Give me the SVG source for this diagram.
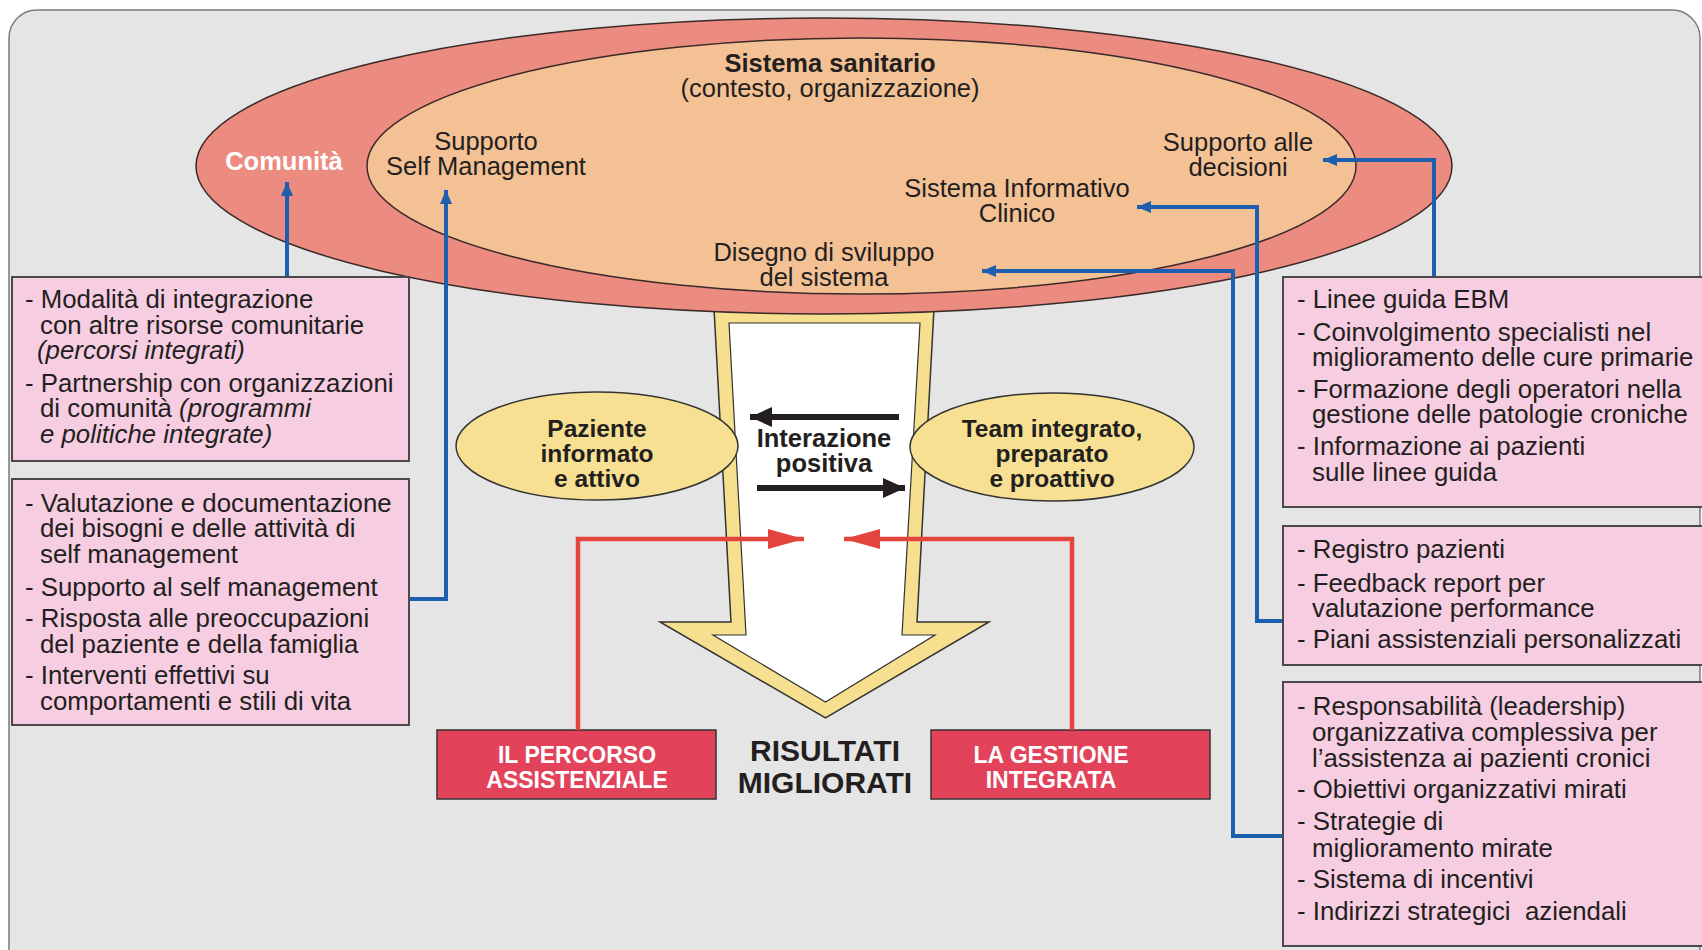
<svg xmlns="http://www.w3.org/2000/svg" width="1702" height="950" viewBox="0 0 1702 950">
<defs>
<style>
text{font-family:"Liberation Sans",Arial,sans-serif;fill:#231f20}
.lbl{font-size:25.5px}
.box{font-size:25.8px}
.b{font-weight:bold}
.it{font-style:italic}
.pink{fill:#f7cde1;stroke:#4a4a4a;stroke-width:2}
.blue{fill:none;stroke:#1e5eaf;stroke-width:4}
.red{fill:none;stroke:#e3453d;stroke-width:4.5}
.rbox{fill:#e2435a;stroke:#333;stroke-width:1.5}
.rtxt{font-size:23px;font-weight:bold;fill:#fff}
.yel{fill:#f8e092;stroke:#333;stroke-width:1.5}
</style>
<marker id="ab" markerUnits="userSpaceOnUse" markerWidth="16" markerHeight="12" refX="14" refY="6" orient="auto"><path d="M0,0 L14,6 L0,12 Z" fill="#1e5eaf"/></marker>
<marker id="ar" markerUnits="userSpaceOnUse" markerWidth="38" markerHeight="20" refX="36" refY="10" orient="auto"><path d="M0,0 L36,10 L0,20 Z" fill="#e3453d"/></marker>
<marker id="ak" markerUnits="userSpaceOnUse" markerWidth="24" markerHeight="20" refX="22" refY="10" orient="auto"><path d="M0,0 L22,10 L0,20 Z" fill="#231f20"/></marker>
</defs>
<rect x="9" y="10" width="1691" height="1000" rx="28" fill="#e5e5e5" stroke="#7a7a7a" stroke-width="1.5"/>

<g id="arrow-big">
<polygon points="713,290 935,290 917,622 989,622 825.5,718 660,622 731,622" fill="#f6df8e" stroke="#333" stroke-width="1.5"/>
<polygon points="729,323 920,323 902,635 935,635 825.5,702 713,635 746,635" fill="#fff" stroke="#333" stroke-width="1.2"/>
</g>

<g id="comunita">
<ellipse cx="824" cy="166" rx="628" ry="148" fill="#ec8b7f" stroke="#3a2a2a" stroke-width="1.5"/>
<text x="284" y="170" text-anchor="middle" class="lbl b" style="fill:#fff">Comunità</text>
</g>
<g id="sistema-sanitario">
<ellipse cx="861.5" cy="166" rx="494.5" ry="128" fill="#f4c195" stroke="#3a2a2a" stroke-width="1.5"/>
<text x="830" y="72" text-anchor="middle" class="lbl b">Sistema sanitario</text>
<text x="830" y="97" text-anchor="middle" class="lbl">(contesto, organizzazione)</text>
</g>
<g id="supporto-self">
<text x="486" y="150" text-anchor="middle" class="lbl">Supporto</text>
<text x="486" y="175" text-anchor="middle" class="lbl">Self Management</text>
</g>
<g id="supporto-decisioni">
<text x="1238" y="151" text-anchor="middle" class="lbl">Supporto alle</text>
<text x="1238" y="176" text-anchor="middle" class="lbl">decisioni</text>
</g>
<g id="sistema-informativo">
<text x="1017" y="197" text-anchor="middle" class="lbl">Sistema Informativo</text>
<text x="1017" y="222" text-anchor="middle" class="lbl">Clinico</text>
</g>
<g id="disegno">
<text x="824" y="261" text-anchor="middle" class="lbl">Disegno di sviluppo</text>
<text x="824" y="286" text-anchor="middle" class="lbl">del sistema</text>
</g>

<g id="paziente">
<ellipse class="yel" cx="597" cy="446" rx="141" ry="54"/>
<text x="597" y="437" text-anchor="middle" class="lbl b" style="font-size:24.5px">Paziente</text>
<text x="597" y="462" text-anchor="middle" class="lbl b" style="font-size:24.5px">informato</text>
<text x="597" y="487" text-anchor="middle" class="lbl b" style="font-size:24.5px">e attivo</text>
</g>
<g id="team">
<ellipse class="yel" cx="1052" cy="447" rx="142" ry="54"/>
<text x="1052" y="437" text-anchor="middle" class="lbl b" style="font-size:24.5px">Team integrato,</text>
<text x="1052" y="462" text-anchor="middle" class="lbl b" style="font-size:24.5px">preparato</text>
<text x="1052" y="487" text-anchor="middle" class="lbl b" style="font-size:24.5px">e proattivo</text>
</g>
<g id="interazione">
<text x="824" y="447" text-anchor="middle" class="lbl b">Interazione</text>
<text x="824" y="472" text-anchor="middle" class="lbl b">positiva</text>
</g>
<g id="risultati">
<text x="825" y="761" text-anchor="middle" class="b" style="font-size:30px">RISULTATI</text>
<text x="825" y="793" text-anchor="middle" class="b" style="font-size:30px">MIGLIORATI</text>
</g>

<g id="percorso">
<rect class="rbox" x="437" y="730" width="279" height="69"/>
<text x="577" y="763" text-anchor="middle" class="rtxt">IL PERCORSO</text>
<text x="577" y="788" text-anchor="middle" class="rtxt">ASSISTENZIALE</text>
</g>
<g id="gestione">
<rect class="rbox" x="931" y="730" width="279" height="69"/>
<text x="1051" y="763" text-anchor="middle" class="rtxt">LA GESTIONE</text>
<text x="1051" y="788" text-anchor="middle" class="rtxt">INTEGRATA</text>
</g>

<g id="connectors">
<line x1="899" y1="417" x2="750" y2="417" stroke="#231f20" stroke-width="6" marker-end="url(#ak)"/>
<line x1="757" y1="488" x2="905" y2="488" stroke="#231f20" stroke-width="6" marker-end="url(#ak)"/>
<polyline class="red" points="578,730 578,539 804,539" marker-end="url(#ar)"/>
<polyline class="red" points="1072,730 1072,539 844,539" marker-end="url(#ar)"/>
<polyline class="blue" points="287,277 287,182" marker-end="url(#ab)"/>
<polyline class="blue" points="409,599 446,599 446,190" marker-end="url(#ab)"/>
<polyline class="blue" points="1434,277 1434,160 1323,160" marker-end="url(#ab)"/>
<polyline class="blue" points="1285,621 1257,621 1257,207 1137,207" marker-end="url(#ab)"/>
<polyline class="blue" points="1285,836 1233,836 1233,271 982,271" marker-end="url(#ab)"/>
</g>

<g id="box-comunita">
<rect class="pink" x="12" y="277" width="397" height="184"/>
<text class="box" x="25" y="308">- Modalità di integrazione</text>
<text class="box" x="40" y="334">con altre risorse comunitarie</text>
<text class="box it" x="37" y="359">(percorsi integrati)</text>
<text class="box" x="25" y="392">- Partnership con organizzazioni</text>
<text class="box" x="40" y="417">di comunità <tspan class="it">(programmi</tspan></text>
<text class="box it" x="40" y="443">e politiche integrate)</text>
</g>
<g id="box-self">
<rect class="pink" x="12" y="479" width="397" height="246"/>
<text class="box" x="25" y="512">- Valutazione e documentazione</text>
<text class="box" x="40" y="537">dei bisogni e delle attività di</text>
<text class="box" x="40" y="563">self management</text>
<text class="box" x="25" y="596">- Supporto al self management</text>
<text class="box" x="25" y="627">- Risposta alle preoccupazioni</text>
<text class="box" x="40" y="653">del paziente e della famiglia</text>
<text class="box" x="25" y="684">- Interventi effettivi su</text>
<text class="box" x="40" y="710">comportamenti e stili di vita</text>
</g>
<g id="box-decisioni">
<rect class="pink" x="1283" y="277" width="430" height="230"/>
<text class="box" x="1297" y="308">- Linee guida EBM</text>
<text class="box" x="1297" y="341">- Coinvolgimento specialisti nel</text>
<text class="box" x="1312" y="366">miglioramento delle cure primarie</text>
<text class="box" x="1297" y="398">- Formazione degli operatori nella</text>
<text class="box" x="1312" y="423">gestione delle patologie croniche</text>
<text class="box" x="1297" y="455">- Informazione ai pazienti</text>
<text class="box" x="1312" y="481">sulle linee guida</text>
</g>
<g id="box-informativo">
<rect class="pink" x="1283" y="526" width="430" height="139"/>
<text class="box" x="1297" y="558">- Registro pazienti</text>
<text class="box" x="1297" y="592">- Feedback report per</text>
<text class="box" x="1312" y="617">valutazione performance</text>
<text class="box" x="1297" y="648">- Piani assistenziali personalizzati</text>
</g>
<g id="box-disegno">
<rect class="pink" x="1283" y="682" width="430" height="264"/>
<text class="box" x="1297" y="715">- Responsabilità (leadership)</text>
<text class="box" x="1312" y="741">organizzativa complessiva per</text>
<text class="box" x="1312" y="767">l’assistenza ai pazienti cronici</text>
<text class="box" x="1297" y="798">- Obiettivi organizzativi mirati</text>
<text class="box" x="1297" y="830">- Strategie di</text>
<text class="box" x="1312" y="857">miglioramento mirate</text>
<text class="box" x="1297" y="888">- Sistema di incentivi</text>
<text class="box" x="1297" y="920" xml:space="preserve">- Indirizzi strategici  aziendali</text>
</g>
</svg>
